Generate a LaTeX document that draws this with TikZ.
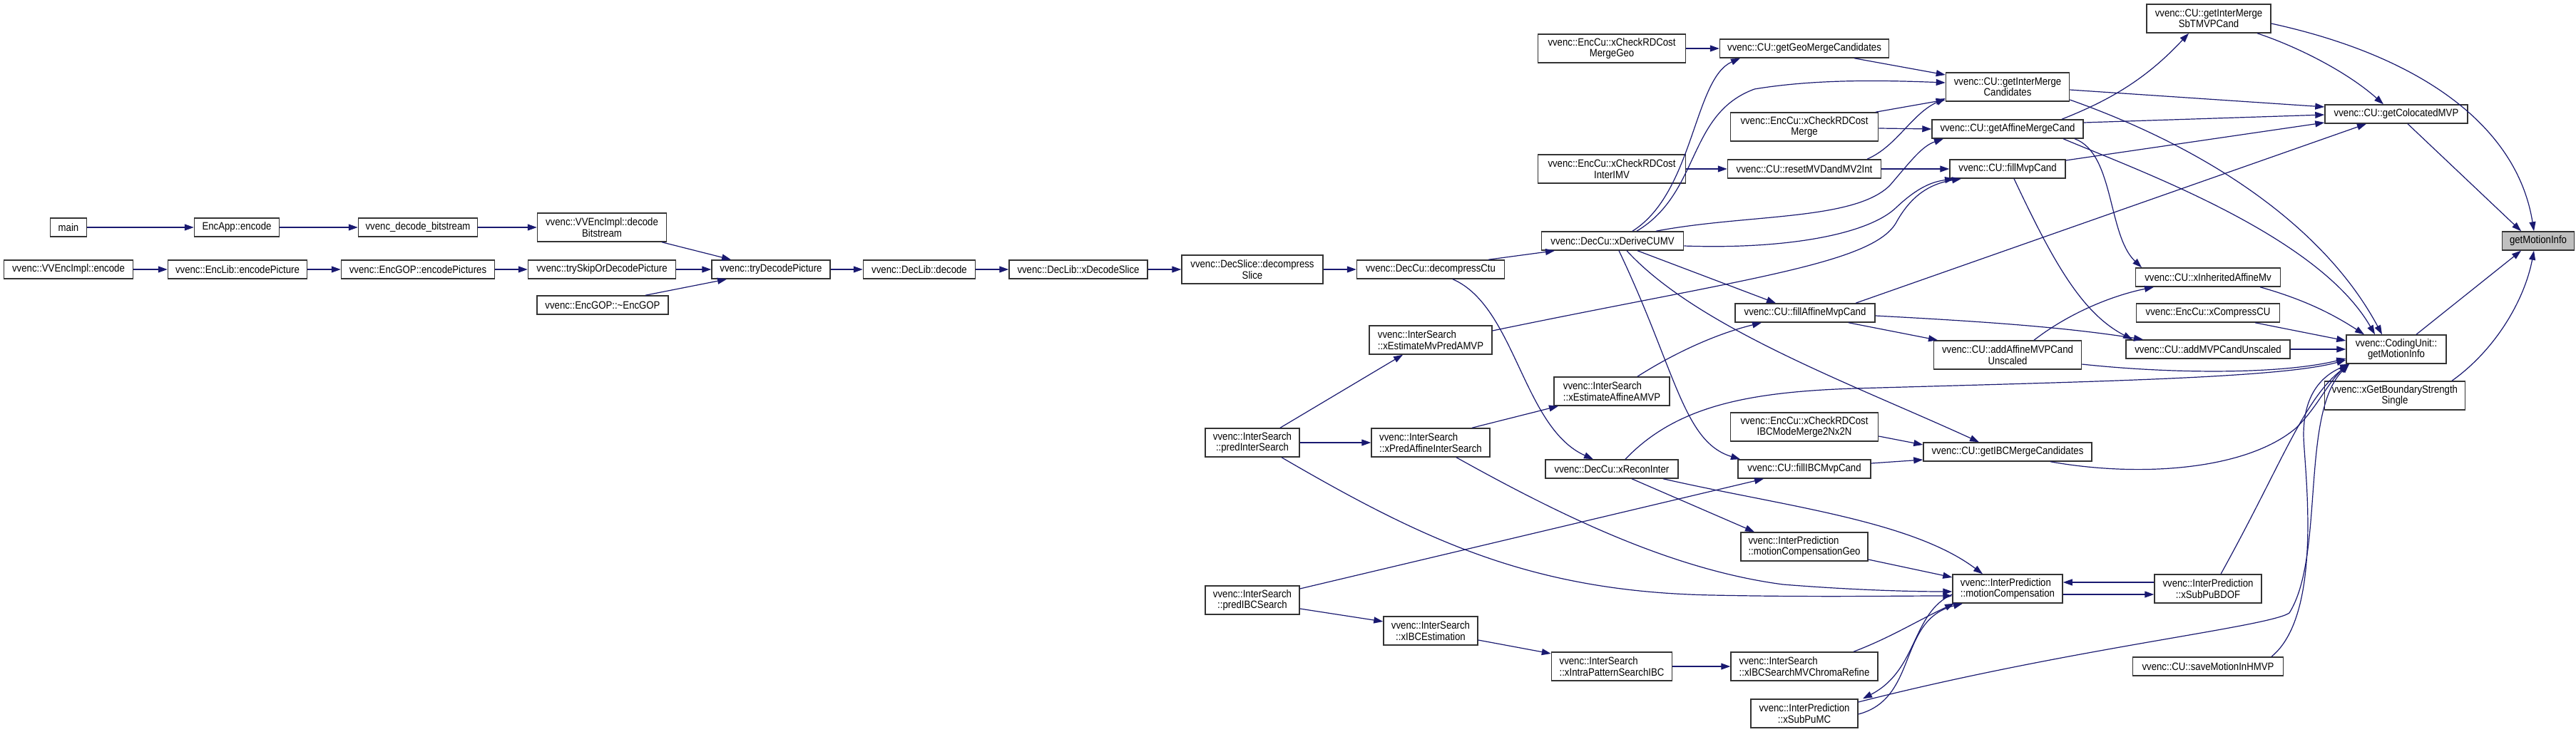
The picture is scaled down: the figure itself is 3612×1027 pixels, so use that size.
\documentclass[tikz,border=0pt]{standalone}
\usepackage{fontspec}
\newfontfamily\dfont{Liberation Sans}[FakeStretch=0.88]
\usetikzlibrary{arrows.meta}
\definecolor{edgeblue}{RGB}{25,25,112}
\definecolor{hilite}{RGB}{191,191,191}
\tikzset{
  box/.style={draw=black!80, line width=1.5pt, fill=white, inner sep=0pt, align=center,
              font={\dfont\fontsize{15pt}{15.5pt}\selectfont}},
  boxl/.style={box, align=left},
  one/.style={minimum height=26pt},
  two/.style={minimum height=40pt},
  edge/.style={draw=edgeblue, line width=1.2pt, -{Triangle[length=13pt,width=9pt]}},
}
\begin{document}
\begin{tikzpicture}[x=1pt,y=-1pt]
\fill[white] (0,0) rectangle (3612,1027);
\useasboundingbox (0,0) rectangle (3612,1027);

% ---------- nodes ----------
\node[box,one,minimum width=51pt]  (main)    at (96,319)  {main};
\node[box,one,minimum width=119pt] (encapp)  at (332,319) {EncApp::encode};
\node[box,one,minimum width=167pt] (decbs)   at (586,319) {vvenc\_decode\_bitstream};
\node[box,two,minimum width=181pt] (vvdec)   at (844,319) {vvenc::VVEncImpl::decode\\Bitstream};
\node[box,one,minimum width=181pt] (vvenc)   at (96,378)  {vvenc::VVEncImpl::encode};
\node[box,one,minimum width=195pt] (enclib)  at (333,378) {vvenc::EncLib::encodePicture};
\node[box,one,minimum width=215pt] (encgop)  at (586,378) {vvenc::EncGOP::encodePictures};
\node[box,one,minimum width=207pt] (tryskip) at (844,378) {vvenc::trySkipOrDecodePicture};
\node[box,one,minimum width=184pt] (gopdtor) at (845,428) {vvenc::EncGOP::\textasciitilde EncGOP};
\node[box,one,minimum width=166pt] (trydec)  at (1081,378) {vvenc::tryDecodePicture};
\node[box,one,minimum width=157pt] (declib)  at (1289,378) {vvenc::DecLib::decode};
\node[box,one,minimum width=194pt] (xdecsl)  at (1512,378) {vvenc::DecLib::xDecodeSlice};
\node[box,two,minimum width=198pt] (decsl)   at (1756,378) {vvenc::DecSlice::decompress\\Slice};
\node[box,one,minimum width=207pt] (ctu)     at (2006,378) {vvenc::DecCu::decompressCtu};
\node[box,one,minimum width=199pt] (derive)  at (2261,338) {vvenc::DecCu::xDeriveCUMV};
\node[boxl,two,minimum width=172pt] (mvpred) at (2006,477) {vvenc::InterSearch\\::xEstimateMvPredAMVP};
\node[box,two,minimum width=132pt] (predinter) at (1756,621) {vvenc::InterSearch\\::predInterSearch};
\node[boxl,two,minimum width=166pt] (predaff) at (2006,621) {vvenc::InterSearch\\::xPredAffineInterSearch};
\node[boxl,two,minimum width=162pt] (affamvp) at (2260,549) {vvenc::InterSearch\\::xEstimateAffineAMVP};
\node[box,one,minimum width=186pt] (recon)   at (2260,658) {vvenc::DecCu::xReconInter};
\node[box,two,minimum width=132pt] (predibc) at (1756,842) {vvenc::InterSearch\\::predIBCSearch};
\node[box,two,minimum width=132pt] (ibcest)  at (2006,885) {vvenc::InterSearch\\::xIBCEstimation};
\node[boxl,two,minimum width=169pt] (intrapat) at (2260,935) {vvenc::InterSearch\\::xIntraPatternSearchIBC};
\node[boxl,two,minimum width=206pt] (chroma) at (2530,935) {vvenc::InterSearch\\::xIBCSearchMVChromaRefine};
\node[box,two,minimum width=150pt] (subpumc) at (2530,1001) {vvenc::InterPrediction\\::xSubPuMC};
\node[boxl,two,minimum width=178pt] (mcgeo)  at (2530,767) {vvenc::InterPrediction\\::motionCompensationGeo};
\node[boxl,two,minimum width=154pt] (mc)     at (2815,826) {vvenc::InterPrediction\\::motionCompensation};
\node[box,two,minimum width=150pt] (bdof)    at (3096,826) {vvenc::InterPrediction\\::xSubPuBDOF};
\node[box,one,minimum width=211pt] (hmvp)    at (3096,935) {vvenc::CU::saveMotionInHMVP};
\node[box,two,minimum width=207pt] (mergegeo) at (2260,68) {vvenc::EncCu::xCheckRDCost\\MergeGeo};
\node[box,one,minimum width=237pt] (geomerge) at (2530,68) {vvenc::CU::getGeoMergeCandidates};
\node[box,two,minimum width=173pt] (intermerge) at (2815,122) {vvenc::CU::getInterMerge\\Candidates};
\node[box,two,minimum width=207pt] (rdmerge) at (2530,178) {vvenc::EncCu::xCheckRDCost\\Merge};
\node[box,one,minimum width=212pt] (affmerge) at (2815,181) {vvenc::CU::getAffineMergeCand};
\node[box,two,minimum width=207pt] (interimv) at (2260,237) {vvenc::EncCu::xCheckRDCost\\InterIMV};
\node[box,one,minimum width=215pt] (reset)   at (2530,237) {vvenc::CU::resetMVDandMV2Int};
\node[box,one,minimum width=162pt] (fillmvp) at (2815,237) {vvenc::CU::fillMvpCand};
\node[box,one,minimum width=196pt] (fillaff) at (2531,439) {vvenc::CU::fillAffineMvpCand};
\node[box,two,minimum width=207pt] (rdibc)   at (2530,599) {vvenc::EncCu::xCheckRDCost\\IBCModeMerge2Nx2N};
\node[box,one,minimum width=186pt] (fillibc) at (2530,658) {vvenc::CU::fillIBCMvpCand};
\node[box,one,minimum width=236pt] (ibcmerge) at (2815,634) {vvenc::CU::getIBCMergeCandidates};
\node[box,two,minimum width=207pt] (addaff)  at (2815,498) {vvenc::CU::addAffineMVPCand\\Unscaled};
\node[box,one,minimum width=230pt] (addmvp)  at (3096,490) {vvenc::CU::addMVPCandUnscaled};
\node[box,one,minimum width=203pt] (inherit) at (3096,389) {vvenc::CU::xInheritedAffineMv};
\node[box,one,minimum width=201pt] (compress) at (3096,439) {vvenc::EncCu::xCompressCU};
\node[box,two,minimum width=174pt] (sbtmvp)  at (3097,26) {vvenc::CU::getInterMerge\\SbTMVPCand};
\node[box,one,minimum width=200pt] (colocated) at (3360,160) {vvenc::CU::getColocatedMVP};
\node[box,two,minimum width=140pt] (cumi)    at (3360,490) {vvenc::CodingUnit::\\getMotionInfo};
\node[box,two,minimum width=197pt] (bs)      at (3358,555) {vvenc::xGetBoundaryStrength\\Single};
\node[box,one,minimum width=101pt,fill=hilite] (gmi) at (3559,338) {getMotionInfo};

% ---------- edges ----------
\draw[edge] (main) -- (encapp);
\draw[edge] (encapp) -- (decbs);
\draw[edge] (decbs) -- (vvdec);
\draw[edge] ([xshift=84pt]vvdec.south) -- ([xshift=-56pt]trydec.north);
\draw[edge] (vvenc) -- (enclib);
\draw[edge] (enclib) -- (encgop);
\draw[edge] (encgop) -- (tryskip);
\draw[edge] (tryskip) -- (trydec);
\draw[edge] ([xshift=60pt]gopdtor.north) -- ([xshift=-62pt]trydec.south);
\draw[edge] (trydec) -- (declib);
\draw[edge] (declib) -- (xdecsl);
\draw[edge] (xdecsl) -- (decsl);
\draw[edge] (decsl) -- (ctu);
\draw[edge] ([xshift=81pt]ctu.north) -- ([xshift=-81pt]derive.south);
\draw[edge] ([xshift=31pt]ctu.south) .. controls (2125,430) and (2135,600) .. ([xshift=-26pt]recon.north);

% xDeriveCUMV
\draw[edge] ([xshift=28pt]derive.north) .. controls (2375,270) and (2375,110) .. ([xshift=-90pt]geomerge.south);
\draw[edge] ([xshift=34pt]derive.north) .. controls (2385,270) and (2365,160) .. (2460,125) .. controls (2550,110) and (2650,113) .. ([yshift=6pt]intermerge.west);
\draw[edge] ([xshift=61pt]derive.north) .. controls (2450,300) and (2600,310) .. (2650,260) .. controls (2680,225) and (2695,205) .. ([xshift=-90pt]affmerge.south);
\draw[edge] ([yshift=-7pt]derive.east) .. controls (2500,350) and (2620,330) .. (2660,290) .. controls (2690,262) and (2710,255) .. ([xshift=-75pt]fillmvp.south);
\draw[edge] ([xshift=35pt]derive.south) -- ([xshift=-41pt]fillaff.north);
\draw[edge] ([xshift=9pt]derive.south) .. controls (2350,520) and (2360,620) .. ([xshift=-90pt]fillibc.north);
\draw[edge] ([xshift=20pt]derive.south) .. controls (2380,460) and (2600,540) .. ([xshift=-40pt]ibcmerge.north);

% merge candidates
\draw[edge] (mergegeo) -- (geomerge);
\draw[edge] ([xshift=70pt]geomerge.south) -- ([yshift=17pt]intermerge.west);
\draw[edge] ([xshift=100pt]rdmerge.north) -- ([yshift=-18pt]intermerge.west);
\draw[edge] ([yshift=-2pt]rdmerge.east) -- (affmerge.west);
\draw[edge] ([xshift=88pt]reset.north) .. controls (2660,205) and (2680,160) .. ([yshift=-16pt]intermerge.west);
\draw[edge] (interimv) -- (reset);
\draw[edge] (reset) -- (fillmvp);
\draw[edge] ([yshift=-4pt]intermerge.east) -- ([yshift=10pt]colocated.west);
\draw[edge] ([yshift=-18pt]intermerge.east) .. controls (3100,210) and (3260,320) .. ([xshift=-20pt]cumi.north);
\draw[edge] ([xshift=76pt]affmerge.north) .. controls (2960,140) and (3010,110) .. ([xshift=-28pt]sbtmvp.south);
\draw[edge] ([yshift=9pt]affmerge.east) -- ([yshift=-1pt]colocated.west);
\draw[edge] ([xshift=94pt]affmerge.south) .. controls (2965,215) and (2955,330) .. ([xshift=-93pt]inherit.north);
\draw[edge] ([xshift=78pt]affmerge.south) .. controls (3000,240) and (3250,330) .. ([xshift=-30pt]cumi.north);
\draw[edge] ([yshift=12pt]fillmvp.east) -- ([yshift=-12pt]colocated.west);
\draw[edge] ([xshift=9pt]fillmvp.south) .. controls (2880,370) and (2920,440) .. ([xshift=-106pt]addmvp.north);
\draw[edge] ([xshift=71pt]fillaff.north) -- ([xshift=-42pt]colocated.south);
\draw[edge] ([xshift=61pt]fillaff.south) -- ([xshift=-98pt]addaff.north);
\draw[edge] ([yshift=-4pt]fillaff.east) .. controls (2800,452) and (2900,460) .. ([xshift=-91pt]addmvp.north);
\draw[edge] ([xshift=36pt]affamvp.north) .. controls (2340,500) and (2400,470) .. ([xshift=-61pt]fillaff.south);
\draw[edge] ([yshift=13pt]mvpred.east) .. controls (2450,390) and (2630,370) .. (2660,310) .. controls (2680,275) and (2705,258) .. ([xshift=-65pt]fillmvp.south);
\draw[edge] ([xshift=37pt]addaff.north) .. controls (2900,440) and (2960,415) .. ([xshift=-76pt]inherit.south);
\draw[edge] ([yshift=-13pt]addaff.east) .. controls (3050,525) and (3200,525) .. ([yshift=-13pt]cumi.west);
\draw[edge] ([xshift=73pt]inherit.south) .. controls (3230,420) and (3270,440) .. ([xshift=-45pt]cumi.north);
\draw[edge] ([xshift=66pt]compress.south) -- ([yshift=12pt]cumi.west);
\draw[edge] (addmvp) -- (cumi);
\draw[edge] ([xshift=16pt]colocated.south) -- ([xshift=-24pt]gmi.north);
\draw[edge] ([xshift=68pt]sbtmvp.south) .. controls (3220,65) and (3290,100) .. ([xshift=-18pt]colocated.north);
\draw[edge] ([yshift=-7pt]sbtmvp.east) .. controls (3400,80) and (3530,180) .. ([xshift=-6pt]gmi.north);
\draw[edge] ([xshift=28pt]cumi.north) -- ([xshift=-24pt]gmi.south);
\draw[edge] ([xshift=80pt]bs.north) .. controls (3500,490) and (3540,420) .. ([xshift=-6pt]gmi.south);

% inter search
\draw[edge] ([xshift=39pt]predinter.north) -- ([xshift=-39pt]mvpred.south);
\draw[edge] (predinter) -- (predaff);
\draw[edge] ([xshift=58pt]predaff.north) -- ([xshift=-75pt]affamvp.south);
\draw[edge] ([xshift=41pt]predinter.south) .. controls (2000,760) and (2150,830) .. (2400,835) .. controls (2550,838) and (2650,836) .. ([yshift=-10pt]mc.west);
\draw[edge] ([xshift=36pt]predaff.south) .. controls (2200,730) and (2350,800) .. (2500,820) .. controls (2600,828) and (2680,830) .. ([yshift=-4pt]mc.west);
\draw[edge] ([xshift=28pt]recon.south) -- ([xshift=-70pt]mcgeo.north);
\draw[edge] ([xshift=72pt]recon.south) .. controls (2500,710) and (2680,730) .. ([xshift=-35pt]mc.north);
\draw[edge] ([xshift=19pt]recon.north) .. controls (2350,570) and (2450,550) .. (2600,545) .. controls (2950,535) and (3200,530) .. ([yshift=-15pt]cumi.west);
\draw[edge] ([yshift=-18pt]mcgeo.east) -- ([yshift=16pt]mc.west);

% IBC
\draw[edge] ([yshift=16pt]predibc.east) -- ([xshift=-57pt]fillibc.south);
\draw[edge] ([yshift=-12pt]predibc.east) -- ([yshift=13pt]ibcest.west);
\draw[edge] ([yshift=-13pt]ibcest.east) -- ([yshift=18pt]intrapat.west);
\draw[edge] (intrapat) -- (chroma);
\draw[edge] ([xshift=69pt]chroma.north) .. controls (2650,895) and (2690,870) .. ([xshift=-75pt]mc.south);
\draw[edge] ([yshift=-1pt]subpumc.east) .. controls (2690,980) and (2660,870) .. ([xshift=-63pt]mc.south);
\draw[edge] ([yshift=-8pt]mc.west) .. controls (2680,860) and (2690,940) .. ([xshift=82pt]subpumc.north);
\draw[edge] ([yshift=8pt]fillibc.east) -- ([yshift=-11pt]ibcmerge.west);
\draw[edge] ([yshift=-13pt]rdibc.east) -- ([yshift=10pt]ibcmerge.west);
\draw[edge] ([xshift=60pt]ibcmerge.south) .. controls (3000,670) and (3150,660) .. (3220,600) .. controls (3250,570) and (3262,540) .. ([xshift=-68pt]cumi.south);

% motion compensation
\draw[edge] ([yshift=-8pt]mc.east) -- ([yshift=-8pt]bdof.west);
\draw[edge] ([yshift=9pt]bdof.west) -- ([yshift=9pt]mc.east);
\draw[edge] ([yshift=16pt]subpumc.east) .. controls (2900,910) and (3180,880) .. (3210,860) .. controls (3260,780) and (3225,580) .. ([xshift=-66pt]cumi.south);
\draw[edge] ([xshift=18pt]bdof.north) .. controls (3200,650) and (3230,560) .. ([xshift=-66pt]cumi.south);
\draw[edge] ([xshift=89pt]hmvp.north) .. controls (3260,860) and (3230,650) .. (3230,610) .. controls (3230,560) and (3250,530) .. ([xshift=-66pt]cumi.south);
\end{tikzpicture}
\end{document}
